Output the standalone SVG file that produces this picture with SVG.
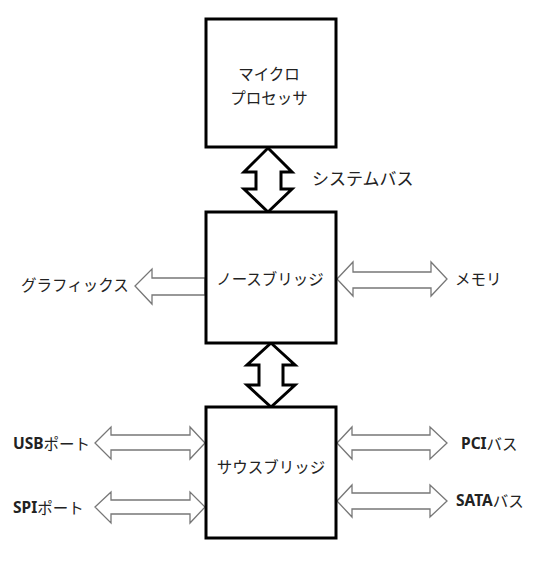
<svg xmlns="http://www.w3.org/2000/svg" width="550" height="566" viewBox="0 0 550 566">
<style>
.box{fill:#fff;stroke:#000;stroke-width:3}
.bus{fill:#fff;stroke:#000;stroke-width:3;stroke-linejoin:miter}
.side{fill:#fff;stroke:#777;stroke-width:1.3}
text{font-family:"Noto Sans CJK JP","Noto Sans",sans-serif;font-size:15.5px;fill:#222;dominant-baseline:central}
.lat{font-family:"Noto Sans","Noto Sans CJK JP",sans-serif;font-weight:bold}
</style>
<rect width="550" height="566" fill="#fff"/>
<g id="connectors">
<polygon class="bus" points="268,148 292,172 281,172 281,189 292,189 268,212 244,189 256,189 256,172 244,172"/>
<polygon class="bus" points="271,343 295,365 283,365 283,385 295,385 271,407 247,385 259,385 259,365 247,365"/>
<polygon class="side" points="205,278 152,278 152,269 135,286 152,304 152,295 205,295"/>
<polygon class="side" points="337,279 353,262 353,272 431,272 431,262 447,279 431,296 431,288 353,288 353,296"/>
<polygon class="side" points="95,443 111,427 111,435 190,435 190,427 205,443 190,459 190,450 111,450 111,459"/>
<polygon class="side" points="95,507 111,492 111,500 190,500 190,492 205,507 190,523 190,514 111,514 111,523"/>
<polygon class="side" points="337,443 352,427 352,435 430,435 430,427 447,443 430,459 430,450 352,450 352,459"/>
<polygon class="side" points="337,501 352,485 352,493 430,493 430,485 447,501 430,517 430,509 352,509 352,517"/>
</g>
<g id="cpu">
<rect class="box" x="206" y="19" width="130" height="128"/>
<text x="269" y="73" text-anchor="middle">マイクロ</text>
<text x="269" y="97" text-anchor="middle">プロセッサ</text>
</g>
<g id="north">
<rect class="box" x="206" y="212" width="130" height="131"/>
<text x="270" y="278" text-anchor="middle">ノースブリッジ</text>
</g>
<g id="south">
<rect class="box" x="206" y="407" width="130" height="131"/>
<text x="271" y="466" text-anchor="middle">サウスブリッジ</text>
</g>
<g id="labels">
<text x="312" y="177" style="font-size:17px">システムバス</text>
<text x="21" y="284">グラフィックス</text>
<text x="455" y="278">メモリ</text>
<text x="13" y="443"><tspan class="lat">USB</tspan>ポート</text>
<text x="13" y="507"><tspan class="lat">SPI</tspan>ポート</text>
<text x="461" y="443"><tspan class="lat">PCI</tspan>バス</text>
<text x="456" y="500"><tspan class="lat">SATA</tspan>バス</text>
</g>
</svg>
